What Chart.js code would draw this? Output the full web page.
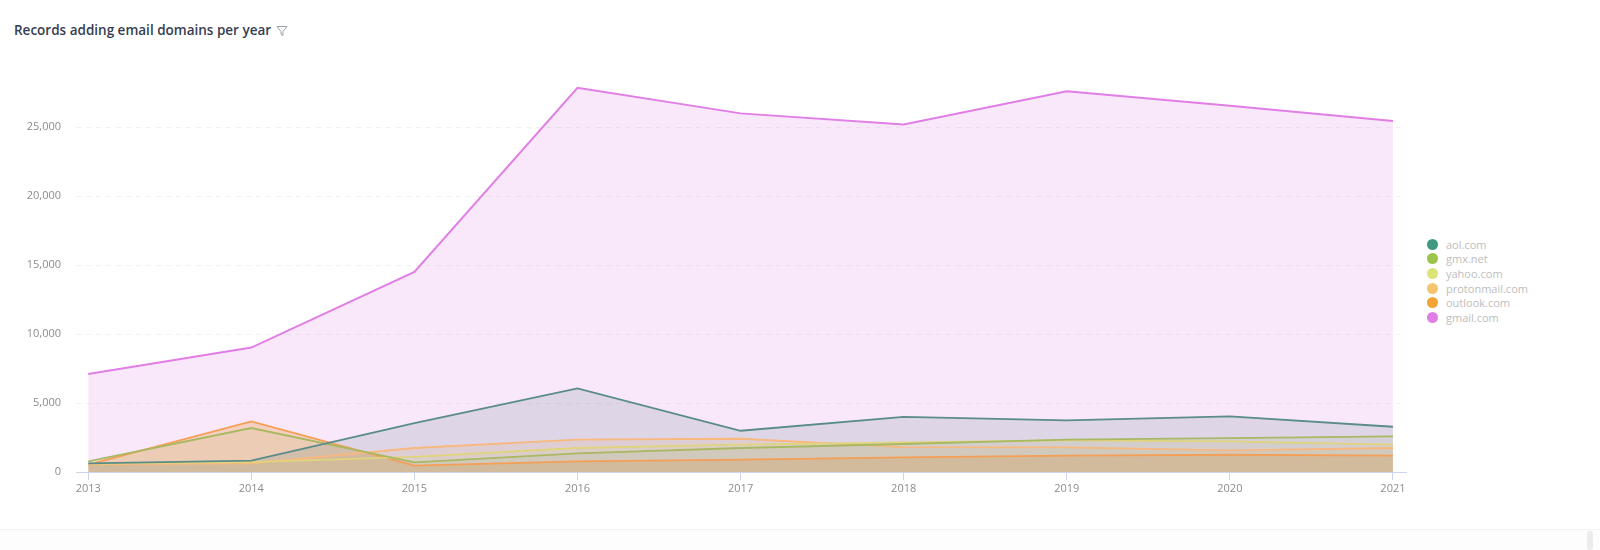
<!DOCTYPE html>
<html>
<head>
<meta charset="utf-8">
<script src="https://cdn.jsdelivr.net/npm/chart.js@4/dist/chart.umd.min.js"></script>
<style>
  html, body { margin: 0; padding: 0; background: #fff; overflow: hidden; }
  body { width: 1600px; height: 550px; position: relative; font-family: "Open Sans", sans-serif; }
  #title { position: absolute; left: 14px; top: 21px; font-size: 13.5px; font-weight: 600; color: #363d52; white-space: nowrap; }
  #title svg { vertical-align: -2px; margin-left: 5px; }
  #wrap { position: absolute; left: 0; top: 0; width: 1420px; height: 510px; }
  #legend { position: absolute; left: 1427px; top: 237px; }
  .item { height: 14.6px; display: flex; align-items: center; font-size: 11px; color: #bdbdbd; }
  .dot { width: 11px; height: 11px; border-radius: 50%; margin-right: 8px; flex: none; }
  #footer { position: absolute; left: 0; top: 529px; width: 1600px; height: 21px; border-top: 1px solid #f2f2f2; background: #fdfdfd; }
  #scroll { position: absolute; right: 7px; top: 531px; width: 6px; height: 19px; border-radius: 3px; background: #ececec; }
</style>
</head>
<body>
<div id="title">Records adding email domains per year<svg width="12" height="12" viewBox="0 0 12 12"><path d="M1 1.5h10L7 6.5v4l-2-1.2V6.5z" fill="none" stroke="#9aa0ac" stroke-width="1" stroke-linejoin="round"/></svg></div>
<div id="wrap"><canvas id="myChart"></canvas></div>
<div id="legend"></div>
<div id="footer"></div>
<div id="scroll"></div>
<script>
const years = [2013, 2014, 2015, 2016, 2017, 2018, 2019, 2020, 2021];

const seriesNames = ["aol.com", "gmx.net", "yahoo.com", "protonmail.com", "outlook.com", "gmail.com"];

const tealValues = [620, 820, 3550, 6060, 2990, 3990, 3740, 4030, 3280];
const greenValues = [770, 3190, 700, 1350, 1740, 2030, 2340, 2460, 2580];
const yellowValues = [600, 720, 1090, 1740, 1980, 2150, 2300, 2220, 1980];
const peachValues = [550, 620, 1740, 2340, 2410, 1810, 1780, 1570, 1740];
const orangeValues = [530, 3670, 460, 770, 890, 1060, 1180, 1250, 1180];
const pinkValues = [7100, 9020, 14500, 27850, 26000, 25200, 27600, 26550, 25450];

const yTicks = [0, 5000, 10000, 15000, 20000, 25000];

const dotColors = ["#3f9a80", "#9cc44c", "#dbe477", "#f5c46e", "#f2a435", "#e07fe3"];
const lineColors = ["#5a8c8a", "#a9b862", "#e0d47c", "#f8b87e", "#f59e55", "#e07ee6"];
const fillColors = [
  "rgba(70,110,120,0.15)",
  "rgba(160,180,80,0.1)",
  "rgba(225,215,110,0.1)",
  "rgba(245,175,110,0.17)",
  "rgba(240,150,60,0.3)",
  "rgba(224,126,230,0.18)"
];
const allValues = [tealValues, greenValues, yellowValues, peachValues, orangeValues, pinkValues];

const ctx = document.getElementById("myChart");

new Chart(ctx, {
  type: "line",
  data: {
    datasets: allValues.map((vals, i) => ({
      label: seriesNames[i],
      data: years.map((y, j) => ({ x: y, y: vals[j] })),
      borderColor: lineColors[i],
      backgroundColor: fillColors[i],
      borderWidth: i === 5 ? 2 : 1.8,
      fill: "origin",
      pointRadius: 0,
      tension: 0,
    })),
  },
  options: {
    responsive: true,
    maintainAspectRatio: false,
    animation: false,
    layout: { padding: { top: 72, right: 14, left: 0, bottom: 0 } },
    plugins: {
      legend: { display: false },
      tooltip: { enabled: false },
      filler: { drawTime: "beforeDatasetsDraw" },
    },
    scales: {
      x: {
        type: "linear",
        min: 2012.925,
        max: 2021.08,
        afterBuildTicks: (scale) => { scale.ticks = years.map(v => ({ value: v })); },
        afterFit: (scale) => { scale.height = 38; },
        grid: { drawOnChartArea: false, drawTicks: true, tickLength: 8, tickColor: "#cdd5ea" },
        border: { color: "#cdd5ea" },
        ticks: {
          color: "#8c8c8c",
          font: { family: "Open Sans", size: 11 },
          padding: 2,
          maxRotation: 0,
          callback: (v) => String(v),
        },
      },
      y: {
        min: 0,
        max: 29000,
        afterBuildTicks: (scale) => { scale.ticks = yTicks.map(v => ({ value: v })); },
        afterFit: (scale) => { scale.width = 76; },
        grid: { color: "#f1f1f1", drawTicks: false },
        border: { display: false, dash: [5, 5] },
        ticks: {
          color: "#8c8c8c",
          font: { family: "Open Sans", size: 11 },
          padding: 15,
          callback: (v) => v.toLocaleString("en-US"),
        },
      },
    },
  },
});

const legend = document.getElementById("legend");
seriesNames.forEach((name, i) => {
  const row = document.createElement("div");
  row.className = "item";
  row.innerHTML = '<span class="dot" style="background:' + dotColors[i] + '"></span><span>' + name + '</span>';
  legend.appendChild(row);
});
</script>
</body>
</html>
